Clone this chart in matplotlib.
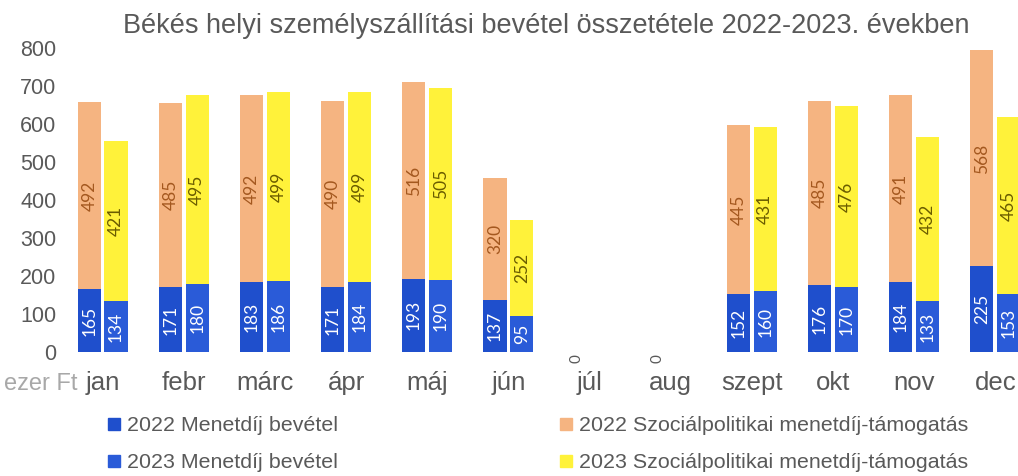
import numpy as np
import matplotlib.pyplot as plt
from matplotlib.lines import Line2D

months = ["jan", "febr", "márc", "ápr", "máj", "jún", "júl", "aug",
          "szept", "okt", "nov", "dec"]
menet_2022 = [165, 171, 183, 171, 193, 137, 0, 0, 152, 176, 184, 225]
menet_2023 = [134, 180, 186, 184, 190, 95, 0, 0, 160, 170, 133, 153]
szoc_2022 = [492, 485, 492, 490, 516, 320, 0, 0, 445, 485, 491, 568]
szoc_2023 = [421, 495, 499, 499, 505, 252, 0, 0, 431, 476, 432, 465]
yticks = [0, 100, 200, 300, 400, 500, 600, 700, 800]

title = "Békés helyi személyszállítási bevétel összetétele 2022-2023. években"
labels = ["2022 Menetdíj bevétel", "2023 Menetdíj bevétel",
          "2022 Szociálpolitikai menetdíj-támogatás",
          "2023 Szociálpolitikai menetdíj-támogatás"]

c_menet22 = "#1f4fcc"
c_menet23 = "#2a5bd8"
c_szoc22 = "#f5b481"
c_szoc23 = "#fff23a"
grey = "#595959"

plt.rcParams["font.family"] = ["Liberation Sans", "DejaVu Sans"]

fig = plt.figure(figsize=(10.18, 4.76), dpi=100)
ax = fig.add_axes([0.061, 0.2605, 0.939, 0.639])

x = np.arange(len(months))
off = 0.165
w = 0.285

b1 = ax.bar(x - off, menet_2022, w, color=c_menet22)
b2 = ax.bar(x + off, menet_2023, w, color=c_menet23)
b3 = ax.bar(x - off, szoc_2022, w, bottom=menet_2022, color=c_szoc22)
b4 = ax.bar(x + off, szoc_2023, w, bottom=menet_2023, color=c_szoc23)

lbl_family = ["Lato", "DejaVu Sans"]
for bars, vals, bottoms, col in [
    (b1, menet_2022, [0] * 12, "white"),
    (b2, menet_2023, [0] * 12, "white"),
    (b3, szoc_2022, menet_2022, "#a4581f"),
    (b4, szoc_2023, menet_2023, "#6a5c00"),
]:
    for bar, v, bt in zip(bars, vals, bottoms):
        if v == 0:
            continue
        ax.text(bar.get_x() + bar.get_width() / 2, bt + v / 2, str(v),
                color=col, rotation=90, ha="center", va="center",
                fontsize=12.5, family=lbl_family)

# zero labels for the empty months
for i, v in enumerate(menet_2022):
    if v == 0 and szoc_2022[i] == 0:
        ax.text(x[i] - off, -6, "0", color=grey, rotation=90, ha="center",
                va="top", fontsize=11, family=lbl_family)

ax.set_xlim(-0.5, 11.28)
ax.set_ylim(0, 800)
ax.set_yticks(yticks)
ax.set_xticks(x)
ax.set_xticklabels(months)
ax.tick_params(axis="y", length=0, pad=4, labelsize=15.5, labelcolor=grey)
ax.tick_params(axis="x", length=0, pad=14, labelsize=18.5, labelcolor=grey)
for s in ax.spines.values():
    s.set_visible(False)

fig.text(0.004, 0.193, "ezer Ft", ha="left", va="center", fontsize=17,
         color="#a8a8a8")

fig.text(0.537, 0.972, title, ha="center", va="top", fontsize=19.5,
         color=grey)

handles = [Line2D([], [], marker="s", linestyle="none", markersize=8, color=c)
           for c in (c_menet22, c_menet23, c_szoc22, c_szoc23)]
fig.legend(handles, labels, ncol=2, loc="upper left",
           bbox_to_anchor=(0.097, 0.144), frameon=False, fontsize=15.4,
           labelcolor=grey, handlelength=0.6, handletextpad=0.3,
           columnspacing=10.4, labelspacing=0.86, borderaxespad=0)

plt.savefig("out.png", dpi=100)
